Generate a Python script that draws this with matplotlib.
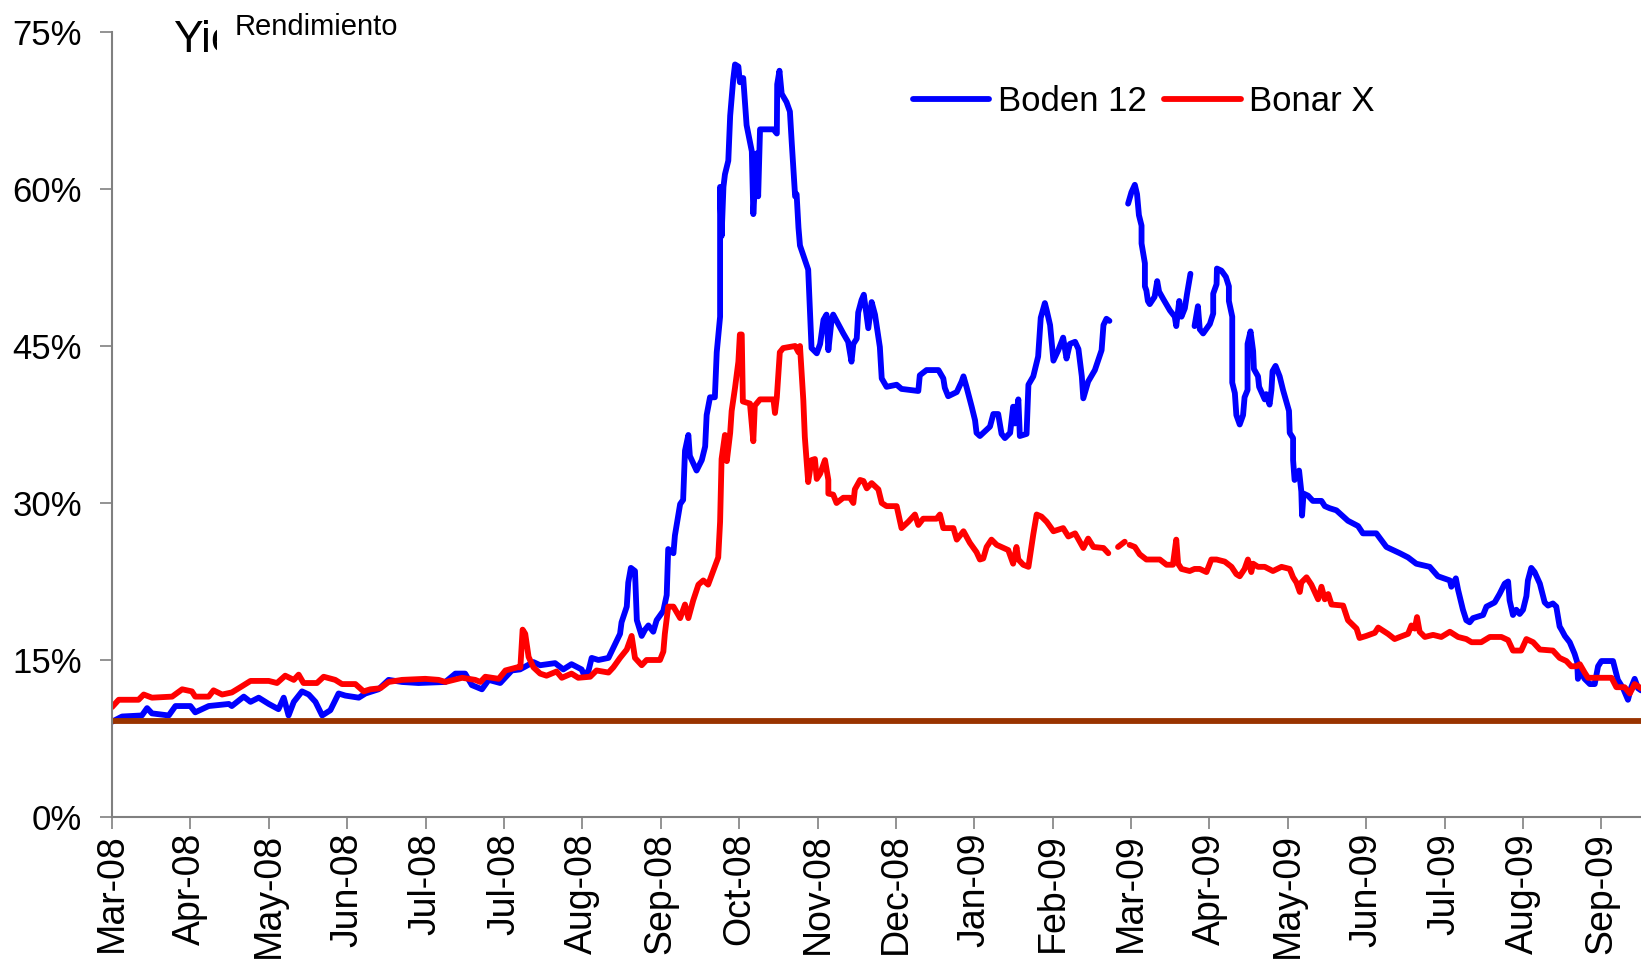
import numpy as np
import matplotlib
matplotlib.use("Agg")
import matplotlib.pyplot as plt
from matplotlib.lines import Line2D

plt.rcParams['font.family'] = ['Liberation Sans', 'DejaVu Sans']

nan = np.nan

# x = trading session since start of Mar-08, y = yield in %
boden_day = [
    0.0, 2.7, 8.0, 9.4, 10.7, 15.2, 17.0, 21.0, 22.3, 25.9, 31.3, 32.1, 35.3, 37.1,
    39.3, 42.0, 44.6, 46.0, 47.3, 48.7, 50.9, 52.7, 54.5, 56.3, 58.5, 60.7, 62.5,
    66.1, 67.9, 71.4, 74.1, 77.7, 82.1, 89.3, 92.0, 94.6, 96.4, 99.1, 100.9, 104.0,
    107.1, 109.3, 112.9, 114.7, 118.7, 120.9, 123.1, 125.8, 126.3, 127.6, 128.5,
    130.3, 133.0, 136.1, 136.5, 137.9, 138.3, 139.0, 140.1, 140.6, 141.9, 142.8,
    143.7, 145.0, 145.9, 147.7, 148.6, 149.0, 150.4, 150.8, 152.2, 153.0, 153.5,
    154.4, 154.8, 156.6, 158.0, 158.9, 159.3, 160.2, 161.5, 162.0, 162.9, 162.9,
    163.3, 163.8, 164.2, 165.1, 165.6, 166.4, 166.9, 167.8, 168.2, 169.1, 170.0,
    171.4, 171.8, 172.7, 173.1, 173.6, 177.2, 178.1, 178.2, 178.8, 179.4, 180.7,
    181.6, 182.1, 183.0, 183.4, 183.9, 184.3, 186.5, 187.0, 187.4, 188.8, 189.7,
    190.6, 191.4, 191.9, 192.8, 193.2, 195.9, 197.2, 198.1, 198.6, 199.5, 199.9,
    200.8, 201.4, 202.6, 203.5, 204.4, 205.7, 206.2, 207.5, 210.2, 211.5, 216.0,
    216.4, 218.2, 221.4, 222.7, 223.1, 224.0, 226.3, 227.6, 228.1, 228.9, 230.3,
    231.2, 231.6, 232.5, 235.2, 236.1, 237.4, 238.3, 239.2, 240.6, 241.4, 241.9,
    242.8, 243.2, 245.0, 245.5, 246.8, 248.1, 248.8, 249.9, 250.4, 251.3, 252.2,
    253.5, 254.8, 255.7, 256.6, 258.0, 258.9, 259.8, 260.2, 261.5, 263.3, 265.1,
    265.6, 266.4, 267.2, 269.5,
    272.2, 273.1, 274.0, 274.6, 275.1, 275.8, 275.8, 276.7, 276.7, 277.1, 277.5,
    278.0, 279.3, 280.0, 280.5, 281.6, 283.4, 284.7, 285.1, 285.9, 286.5, 287.4,
    288.0, 288.9, 289.4,
    290.0, 290.9, 291.4, 292.3, 294.1, 295.0, 295.0, 295.9, 296.0, 297.2, 298.4,
    299.2, 299.2, 300.1, 300.1, 300.8, 301.2, 302.1, 303.0, 303.4, 304.2, 304.2,
    305.0, 305.7, 305.9, 307.0, 307.3, 308.8, 309.2, 310.1, 310.6, 310.9, 311.7,
    312.8, 313.7, 315.3, 315.5, 316.4, 316.4, 316.8, 318.0, 318.6, 318.8, 319.2,
    320.4, 321.7, 324.0, 324.9, 326.2, 328.0, 331.1, 333.8, 335.1, 338.7, 341.4,
    345.0, 347.2, 349.4, 353.0, 355.2, 358.4, 358.8, 360.0, 360.6, 361.9, 362.8,
    363.7, 364.6, 367.3, 368.2, 370.4, 371.7, 373.1, 374.0, 374.4, 375.3, 376.2,
    377.1, 378.0, 378.9, 379.3, 380.2, 381.1, 382.5, 383.8, 384.7, 386.0, 386.9,
    387.8, 388.3, 389.2, 390.5, 391.8, 392.5, 392.7, 393.2, 394.5, 395.9, 397.2,
    398.1, 399.0, 402.1, 403.4, 404.8, 406.1, 407.0, 407.9, 408.8, 409.6,
]
boden_yield = [
    9.1, 9.6, 9.7, 10.4, 9.9, 9.7, 10.6, 10.6, 10.0, 10.6, 10.8, 10.6, 11.5, 11.0,
    11.4, 10.8, 10.3, 11.4, 9.7, 11.0, 12.0, 11.7, 11.0, 9.7, 10.2, 11.8, 11.6,
    11.4, 11.8, 12.2, 13.1, 12.9, 12.8, 12.9, 13.7, 13.7, 12.6, 12.2, 13.1, 12.8,
    14.0, 14.1, 14.8, 14.5, 14.7, 14.1, 14.6, 14.1, 13.7, 13.9, 15.2,
    15.0, 15.2, 17.5, 18.6, 20.1, 22.4, 23.8, 23.5, 18.8, 17.3, 17.9,
    18.3, 17.7, 18.8, 19.7, 21.2, 25.6, 25.2, 26.9, 29.9, 30.3, 35.0,
    36.5, 34.5, 33.1, 34.1, 35.4, 38.4, 40.1, 40.1, 44.4, 47.8, 60.2,
    55.5, 60.2, 61.4, 62.7, 67.0, 70.4, 71.9, 71.7, 70.2, 70.6, 66.1,
    63.6, 57.6, 63.4, 59.3, 65.7, 65.7, 65.3, 70.0, 71.3, 69.1, 68.3,
    67.4, 64.4, 59.3, 59.5, 56.3, 54.6, 52.3, 48.2, 44.8, 44.3, 45.2,
    47.5, 48.0, 44.6, 47.6, 48.0, 46.2, 45.4, 43.5, 45.2, 45.7, 48.2,
    49.4, 49.9, 46.7, 49.2, 48.0, 44.9, 41.9, 41.1, 41.3, 40.9, 40.7,
    42.2, 42.7, 42.7, 41.9, 41.0, 40.2, 40.6, 41.6, 42.1, 41.1, 39.2,
    37.9, 36.7, 36.4, 37.3, 38.5, 38.5, 36.6, 36.2, 36.7, 39.2, 37.6,
    39.9, 36.4, 36.6, 41.3, 42.1, 44.0, 47.7, 49.1, 48.4, 47.0, 43.6,
    44.6, 45.8, 43.8, 45.2, 45.4, 44.7, 42.1, 40.0, 41.6, 42.7, 44.6,
    47.0, 47.6, 47.4, nan,
    58.6, 59.7, 60.4, 59.5, 57.5, 56.5, 54.8, 52.9, 50.7, 50.3, 49.3,
    49.0, 49.7, 51.2, 50.2, 49.5, 48.4, 47.8, 46.9, 49.3, 47.8, 48.6,
    50.0, 51.9, nan,
    46.9, 48.8, 46.6, 46.2, 47.1, 48.1, 50.0, 50.9, 52.4, 52.2, 51.6,
    50.7, 49.3, 47.8, 41.5, 40.5, 38.4, 37.5, 38.4, 40.1, 40.8, 45.2,
    46.4, 44.5, 42.8, 42.1, 41.1, 39.9, 40.4, 39.4, 40.8, 42.6, 43.1,
    42.1, 40.8, 38.8, 36.7, 36.2, 34.1, 32.2, 33.1, 31.1, 28.8, 30.9,
    30.7, 30.2, 30.2, 29.7, 29.5, 29.3, 28.3, 27.8, 27.1, 27.1, 25.8,
    25.2, 24.8, 24.2, 23.9, 23.0, 22.6, 22.0, 22.8, 21.7, 19.8, 18.8,
    18.6, 19.0, 19.3, 20.1, 20.5, 21.3, 22.3, 22.5, 20.7, 19.3, 19.8,
    19.4, 19.8, 21.1, 22.6, 23.8, 23.4, 22.3, 20.5, 20.2, 20.4, 20.1,
    18.2, 17.9, 17.3, 16.7, 15.6, 14.8, 13.2, 14.0, 13.2, 12.7, 12.7,
    14.4, 14.9, 14.9, 13.1, 12.3, 11.2, 12.4, 13.2, 12.3, 12.1,
]

bonar_day = [
    0.0, 1.8, 7.1, 8.5, 10.7, 16.1, 18.8, 21.4, 22.3, 25.9, 27.2, 29.5, 32.1, 34.4,
    37.1, 42.0, 44.2, 46.4, 48.7, 50.0, 51.3, 54.9, 56.7, 59.8, 61.6, 65.2, 67.4,
    69.2, 71.9, 74.1, 77.7, 83.9, 87.5, 89.3, 93.8, 97.3, 98.7, 100.0, 103.6, 105.4,
    108.6, 109.4, 110.0, 110.7, 111.6, 112.9, 114.7, 116.4, 119.1, 120.5, 123.1,
    124.9, 128.1, 129.8, 133.0, 134.3, 136.1, 137.9, 139.2, 140.1, 141.9, 143.2,
    146.8, 147.7, 148.1, 149.0, 150.4, 152.2, 153.5, 154.4, 155.7, 157.1, 158.4,
    159.7, 162.4, 162.9, 163.3, 164.2, 164.7, 165.6, 166.0, 166.9, 167.8, 168.2,
    168.7, 169.0, 170.9, 171.8, 172.2, 173.6, 177.2, 177.6, 178.1, 178.9, 179.8,
    183.0, 183.9, 184.3, 185.2, 185.6, 186.5, 187.4, 188.3, 188.8, 189.7, 191.0,
    191.9, 191.9, 193.2, 194.1, 195.9, 197.7, 198.6, 199.0, 200.4, 201.3, 202.2,
    203.5, 205.3, 206.2, 207.5, 210.2, 211.5, 213.3, 215.1, 216.0, 217.3, 220.9,
    221.8, 222.7, 225.4, 226.3, 228.1, 229.8, 231.6, 232.5, 233.4, 234.3, 235.6,
    237.0, 240.1, 241.4, 242.3, 242.8, 244.1, 245.5, 246.8, 247.7, 249.0, 250.4,
    252.2, 254.8, 256.2, 258.0, 260.2, 261.5, 262.9, 265.6, 266.9, 268.0,
    269.5, 271.3, 271.9,
    272.6, 274.0, 275.3, 277.1, 280.7, 282.5, 284.2, 285.1, 285.6, 286.5, 288.7,
    290.0, 291.4, 293.2, 294.5, 295.9, 298.1, 299.9, 301.2, 302.1, 303.4, 304.3,
    305.2, 305.7, 307.0, 308.8, 311.0, 313.3, 315.5, 316.4, 317.3, 318.2, 318.6,
    320.0, 321.3, 322.2, 323.1, 324.0, 324.9, 325.8, 326.7, 329.8, 331.1, 333.4,
    334.2, 336.0, 338.3, 339.2, 341.8, 343.6, 345.0, 347.2, 348.1, 349.0, 349.6,
    350.3, 351.7, 353.9, 356.1, 358.4, 360.6, 362.8, 364.2, 366.8, 369.1, 372.2,
    374.0, 375.3, 377.5, 378.9, 380.7, 382.5, 386.0, 387.8, 389.6, 390.9, 392.3,
    393.2, 394.5, 395.4, 401.7, 403.0, 405.2, 406.6, 407.9, 409.6,
]
bonar_yield = [
    10.5, 11.2, 11.2, 11.7, 11.4, 11.5, 12.2, 12.0, 11.5, 11.5, 12.1, 11.7, 11.9, 12.4,
    13.0, 13.0, 12.8, 13.5, 13.1, 13.6, 12.8, 12.8, 13.4, 13.1, 12.7, 12.7, 12.0,
    12.2, 12.3, 12.9, 13.1, 13.2, 13.1, 12.9, 13.3, 13.1, 12.9, 13.4, 13.2, 14.0,
    14.3, 14.3, 17.9, 17.5, 15.3, 14.3, 13.7, 13.5, 13.9, 13.3, 13.7,
    13.3, 13.4, 14.0, 13.8, 14.3, 15.2, 16.0, 17.3, 15.2, 14.5, 15.0,
    15.0, 15.8, 17.5, 20.1, 20.1, 19.0, 20.3, 19.0, 20.7, 22.2, 22.6,
    22.2, 24.8, 28.2, 34.2, 36.5, 34.0, 36.7, 38.8, 41.0, 43.5, 46.1,
    46.1, 39.7, 39.5, 35.9, 39.3, 39.9, 39.9, 38.6, 40.1, 44.4, 44.8,
    45.0, 44.4, 45.0, 39.8, 36.3, 32.0, 34.1, 34.2, 32.3, 32.8, 34.1,
    32.2, 30.9, 30.8, 30.0, 30.5, 30.5, 30.0, 31.3, 32.2, 32.1, 31.4,
    31.9, 31.3, 30.0, 29.7, 29.7, 27.6, 28.2, 28.9, 27.9, 28.5, 28.5,
    28.9, 27.6, 27.6, 26.5, 27.3, 26.2, 25.3, 24.6, 24.7, 25.8, 26.5,
    26.0, 25.5, 24.2, 25.8, 24.6, 24.1, 23.9, 27.0, 28.9, 28.7, 28.2,
    27.3, 27.6, 26.8, 27.1, 25.7, 26.6, 25.8, 25.7, 25.2, nan,
    25.8, 26.3, nan,
    26.0, 25.8, 25.1, 24.6, 24.6, 24.1, 24.1, 26.5, 24.2, 23.7, 23.5,
    23.7, 23.7, 23.4, 24.6, 24.6, 24.4, 23.9, 23.2, 23.0, 23.7, 24.6,
    23.4, 24.2, 23.9, 23.9, 23.5, 23.9, 23.7, 22.9, 22.4, 21.5, 22.4,
    22.9, 22.2, 21.5, 20.8, 22.0, 20.8, 21.3, 20.3, 20.2, 18.8, 18.0,
    17.1, 17.3, 17.6, 18.1, 17.5, 17.0, 17.2, 17.5, 18.3, 18.0, 19.1,
    17.7, 17.2, 17.4, 17.2, 17.7, 17.2, 17.0, 16.7, 16.7, 17.2, 17.2,
    16.9, 15.9, 15.9, 17.0, 16.7, 16.0, 15.9, 15.2, 14.9, 14.4, 14.4,
    14.6, 13.8, 13.3, 13.3, 12.4, 12.4, 11.8, 12.7, 12.3,
]

reference_level = 9.2

month_labels = [
    "Mar-08", "Apr-08", "May-08", "Jun-08", "Jul-08", "Jul-08", "Aug-08",
    "Sep-08", "Oct-08", "Nov-08", "Dec-08", "Jan-09", "Feb-09", "Mar-09",
    "Apr-09", "May-09", "Jun-09", "Jul-09", "Aug-09", "Sep-09",
]
sessions_per_tick = 21
y_ticks = [0, 15, 30, 45, 60, 75]

fig = plt.figure(figsize=(16.41, 9.64), dpi=100)
ax = fig.add_axes([0.06825, 0.1525, 0.93175, 0.8143])

line_kw = dict(lw=4.2, solid_capstyle='round', solid_joinstyle='round')
ax.plot(boden_day, boden_yield, color='#0000FF', label='Boden 12', **line_kw)
ax.plot(bonar_day, bonar_yield, color='#FF0000', label='Bonar X', **line_kw)
ax.axhline(reference_level, color='#993300', lw=4.2, solid_capstyle='butt')

ax.set_xlim(0, 409.6)
ax.set_ylim(0, 75)
ax.set_xticks([i * sessions_per_tick for i in range(len(month_labels))])
ax.set_xticklabels(month_labels, rotation=90, fontsize=27)
ax.set_yticks(y_ticks)
ax.set_yticklabels([f"{v}%" for v in y_ticks], fontsize=25)

for side in ('top', 'right'):
    ax.spines[side].set_visible(False)
for side in ('left', 'bottom'):
    ax.spines[side].set_color('#808080')
    ax.spines[side].set_linewidth(1.5)
ax.tick_params(axis='both', direction='out', length=8.5, width=1.2, color='#808080')
ax.tick_params(axis='y', pad=13)
ax.tick_params(axis='x', pad=3)

handles = [Line2D([], [], color='#0000FF', lw=4.2, solid_capstyle='round'),
           Line2D([], [], color='#FF0000', lw=4.2, solid_capstyle='round')]
fig.legend(handles, ['Boden 12', 'Bonar X'], loc='center left',
           bbox_to_anchor=(0.5564, 0.8947), bbox_transform=fig.transFigure,
           ncol=2, frameon=False, fontsize=25, handlelength=2.2,
           handletextpad=0.25, columnspacing=0.5, borderpad=0, borderaxespad=0)

# the chart's "Yield" title is partly hidden behind the "Rendimiento" box
fig.text(0.1054, 0.946, "Yield", fontsize=32, ha='left', va='baseline')
fig.text(0.1432, 0.9637, "Rendimiento", fontsize=21, ha='left', va='baseline',
         bbox=dict(facecolor='white', edgecolor='none', boxstyle='square,pad=0.6'))

fig.savefig("out.png", dpi=100)
